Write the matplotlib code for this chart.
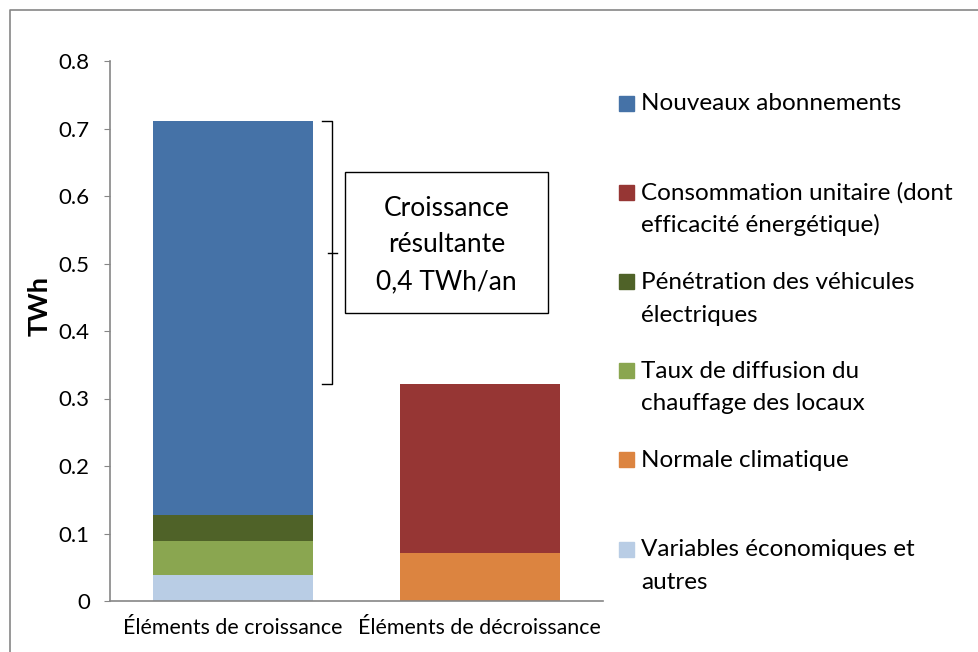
import matplotlib.pyplot as plt
from matplotlib.patches import Rectangle
from matplotlib.lines import Line2D

plt.rcParams['font.family'] = ['Lato', 'DejaVu Sans']

categories = ['Éléments de croissance', 'Éléments de décroissance']

# stacked segments, bottom to top
series = ['Variables économiques et autres',
          'Taux de diffusion du chauffage des locaux',
          'Pénétration des véhicules électriques',
          'Normale climatique',
          'Consommation unitaire (dont efficacité énergétique)',
          'Nouveaux abonnements']
values = {
    'Variables économiques et autres': [0.039, 0.0],
    'Taux de diffusion du chauffage des locaux': [0.050, 0.0],
    'Pénétration des véhicules électriques': [0.038, 0.0],
    'Normale climatique': [0.0, 0.071],
    'Consommation unitaire (dont efficacité énergétique)': [0.0, 0.250],
    'Nouveaux abonnements': [0.584, 0.0],
}
colors = {
    'Variables économiques et autres': '#B9CDE5',
    'Taux de diffusion du chauffage des locaux': '#8AA650',
    'Pénétration des véhicules électriques': '#4F6228',
    'Normale climatique': '#DC8440',
    'Consommation unitaire (dont efficacité énergétique)': '#963634',
    'Nouveaux abonnements': '#4572A7',
}

# legend order (top to bottom) and wrapped labels
legend_order = ['Nouveaux abonnements',
                'Consommation unitaire (dont efficacité énergétique)',
                'Pénétration des véhicules électriques',
                'Taux de diffusion du chauffage des locaux',
                'Normale climatique',
                'Variables économiques et autres']
legend_text = ['Nouveaux abonnements',
               'Consommation unitaire (dont\nefficacité énergétique)',
               'Pénétration des véhicules\nélectriques',
               'Taux de diffusion du\nchauffage des locaux',
               'Normale climatique',
               'Variables économiques et\nautres']

annotation = 'Croissance\nrésultante\n0,4 TWh/an'

W, H = 979, 652
fig = plt.figure(figsize=(W / 100, H / 100), dpi=100)
ax = fig.add_axes([110 / W, 1 - 601 / H, 493 / W, 540 / H])

x = [0, 1]
bottom = [0.0, 0.0]
for s in series:
    ax.bar(x, values[s], bottom=bottom, width=0.65, color=colors[s], label=s)
    bottom = [b + v for b, v in zip(bottom, values[s])]

ax.set_xlim(-0.5, 1.5)
ax.set_ylim(0, 0.8)
ax.set_yticks([i / 10 for i in range(9)])
ax.set_yticklabels(['0' if i == 0 else f'0.{i}' for i in range(9)], fontsize=16)
ax.set_xticks(x)
ax.set_xticklabels(categories, fontsize=15.4)
ax.tick_params(axis='x', length=0, pad=12)
ax.tick_params(axis='y', length=4.5, color='#868686', pad=10)
for sp in ['top', 'right']:
    ax.spines[sp].set_visible(False)
for sp in ['left', 'bottom']:
    ax.spines[sp].set_color('#868686')
    ax.spines[sp].set_linewidth(1.2)
ax.text((40 - 110) / 493, (601 - 306) / 540, 'TWh', transform=ax.transAxes,
        rotation=90, ha='center', va='center', fontsize=19.5, fontweight='bold')

# bracket showing the net growth
top = bottom[0]
low = bottom[1]
bx = 0.4
ax.plot([bx - 0.04, bx, bx, bx - 0.04], [top, top, low, low], color='black', lw=1)
mid = (top + low) / 2
ax.plot([bx - 0.015, bx + 0.02], [mid, mid], color='black', lw=1)

ax.add_patch(Rectangle(((345 - 110) / 493, (601 - 313) / 540), 203 / 493, 141 / 540,
                       transform=ax.transAxes, fc='white', ec='black', lw=1))
ax.text((446.5 - 110) / 493, (601 - 245) / 540, annotation, transform=ax.transAxes,
        ha='center', va='center', fontsize=19, linespacing=1.6)

# legend on the right
marker_y = [103, 192.5, 282, 370, 459.5, 549]
for s, txt, yp in zip(legend_order, legend_text, marker_y):
    fig.patches.append(Rectangle((619 / W, 1 - (yp + 7.5) / H), 15 / W, 15 / H,
                                 transform=fig.transFigure, color=colors[s]))
    for i, line in enumerate(txt.split('\n')):
        fig.text(641 / W, 1 - (yp + 7.5 + i * 32.5) / H, line, fontsize=17.5,
                 va='baseline', ha='left')

# outer chart frame
fig.add_artist(Line2D([9.5 / W, 9.5 / W, 1.0], [0.0, 1 - 9.5 / H, 1 - 9.5 / H],
                      transform=fig.transFigure, color='#868686', lw=1.2))

fig.savefig('out.png', dpi=100)
